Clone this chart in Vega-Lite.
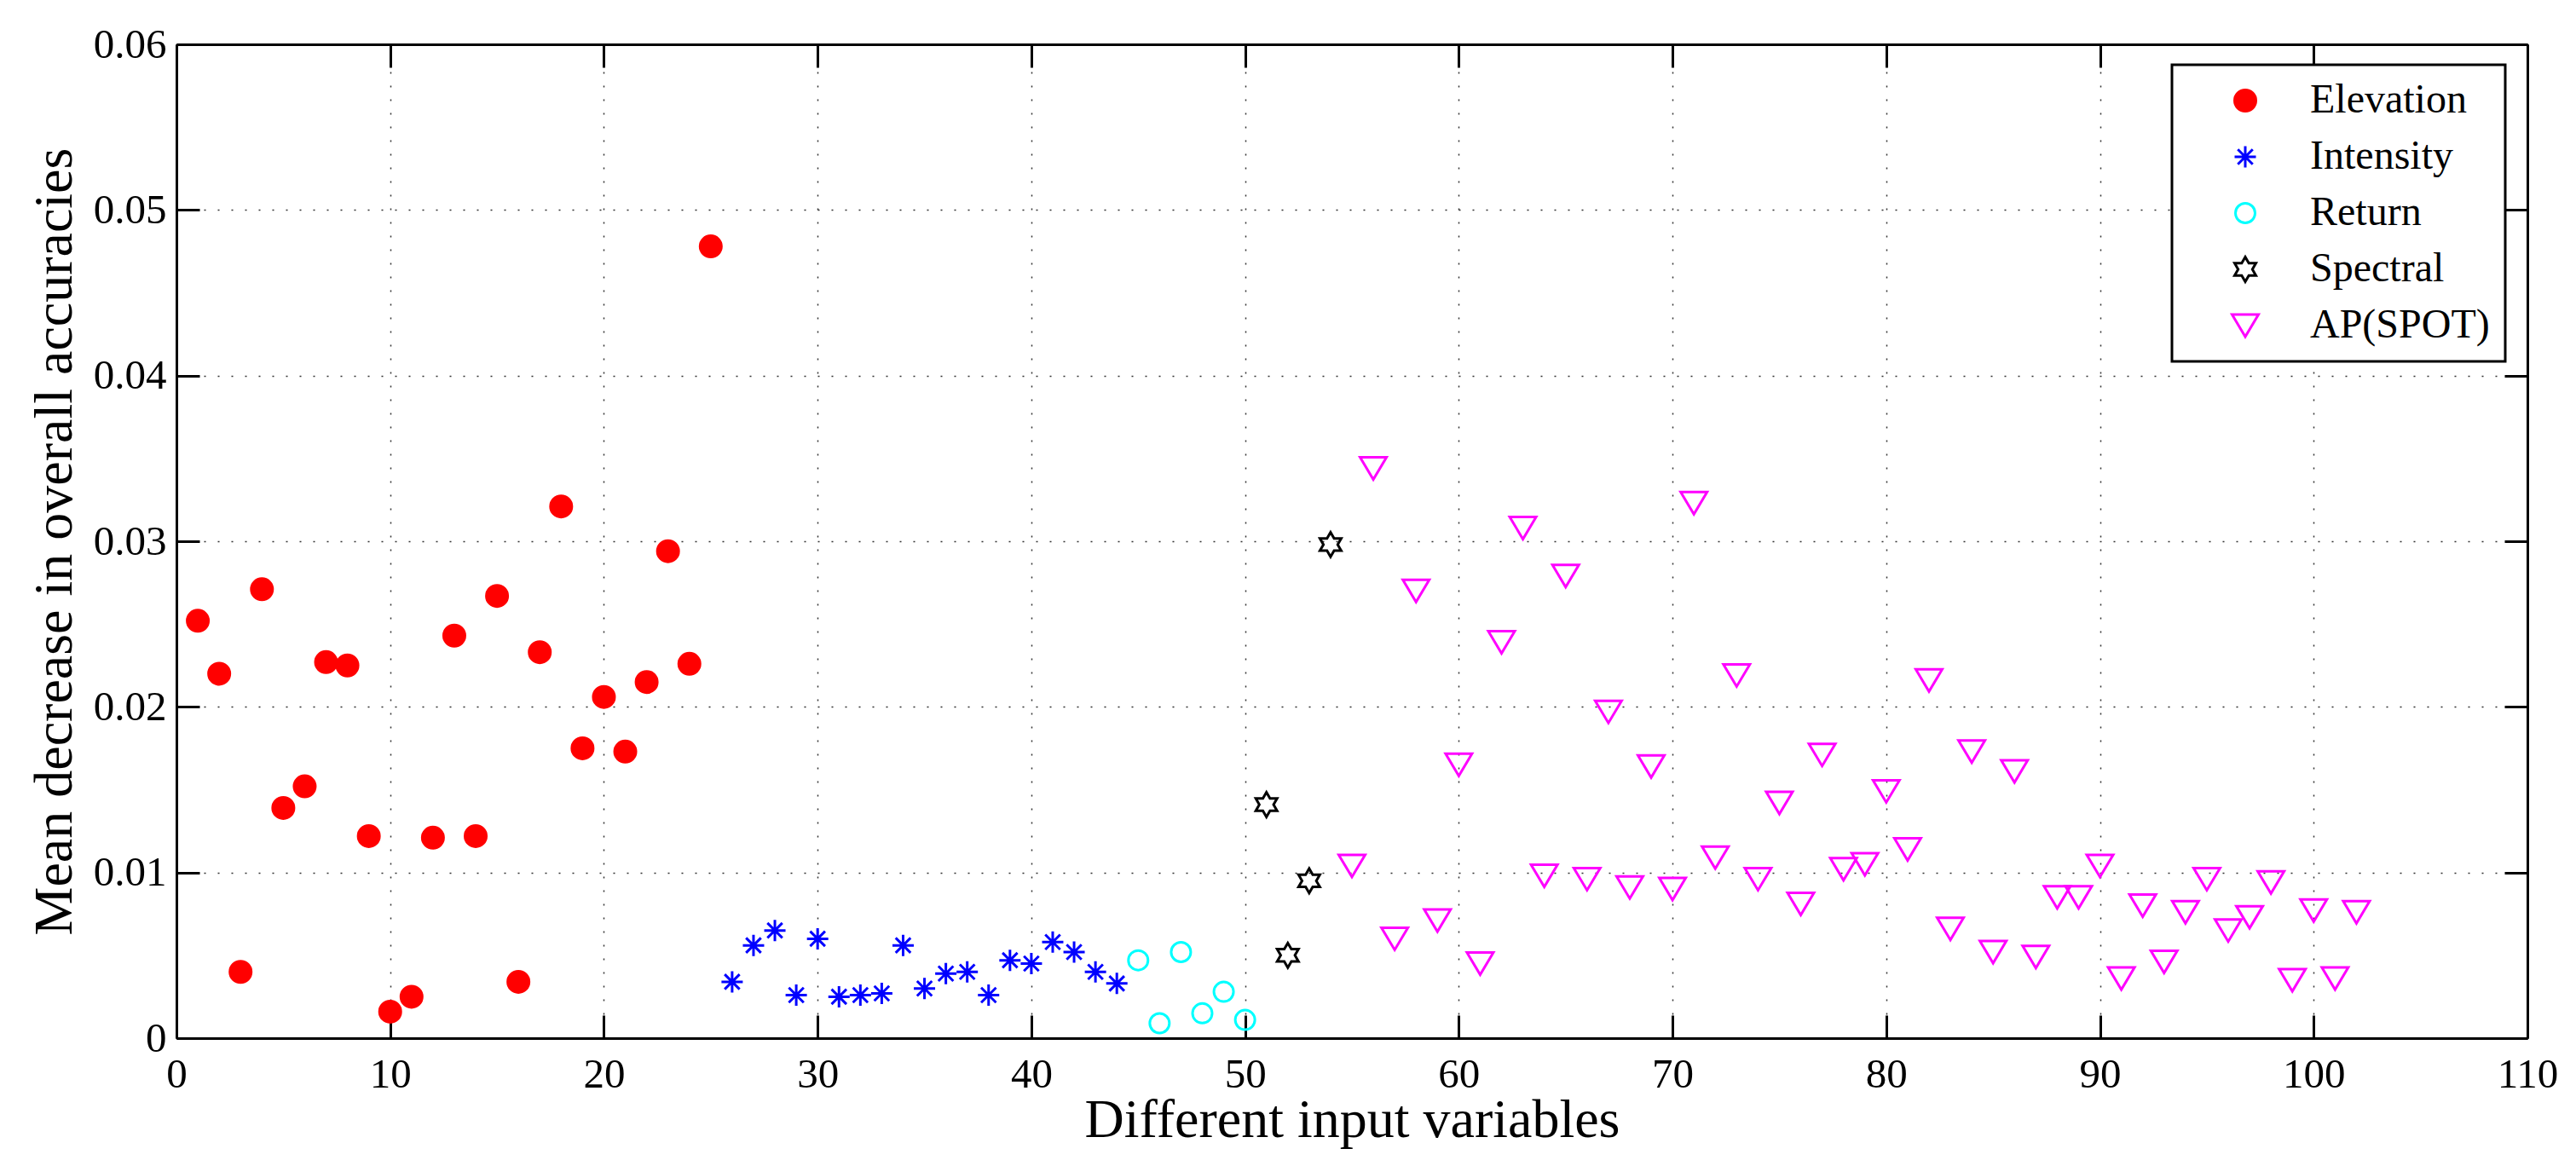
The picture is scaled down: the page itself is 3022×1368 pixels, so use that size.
{
  "$schema": "https://vega.github.io/schema/vega-lite/v6.json",
  "autosize": {"type": "none"},
  "width": 2758,
  "height": 1166,
  "padding": {"left": 207, "top": 52, "right": 57, "bottom": 150},
  "background": "white",
  "data": {
    "values": [
      {"x": 1, "y": 0.0252, "type": "Elevation"},
      {"x": 2, "y": 0.0220, "type": "Elevation"},
      {"x": 3, "y": 0.0040, "type": "Elevation"},
      {"x": 4, "y": 0.0271, "type": "Elevation"},
      {"x": 5, "y": 0.0139, "type": "Elevation"},
      {"x": 6, "y": 0.0152, "type": "Elevation"},
      {"x": 7, "y": 0.0227, "type": "Elevation"},
      {"x": 8, "y": 0.0225, "type": "Elevation"},
      {"x": 9, "y": 0.0122, "type": "Elevation"},
      {"x": 10, "y": 0.0016, "type": "Elevation"},
      {"x": 11, "y": 0.0025, "type": "Elevation"},
      {"x": 12, "y": 0.0121, "type": "Elevation"},
      {"x": 13, "y": 0.0243, "type": "Elevation"},
      {"x": 14, "y": 0.0122, "type": "Elevation"},
      {"x": 15, "y": 0.0267, "type": "Elevation"},
      {"x": 16, "y": 0.0034, "type": "Elevation"},
      {"x": 17, "y": 0.0233, "type": "Elevation"},
      {"x": 18, "y": 0.0321, "type": "Elevation"},
      {"x": 19, "y": 0.0175, "type": "Elevation"},
      {"x": 20, "y": 0.0206, "type": "Elevation"},
      {"x": 21, "y": 0.0173, "type": "Elevation"},
      {"x": 22, "y": 0.0215, "type": "Elevation"},
      {"x": 23, "y": 0.0294, "type": "Elevation"},
      {"x": 24, "y": 0.0226, "type": "Elevation"},
      {"x": 25, "y": 0.0478, "type": "Elevation"},
      {"x": 26, "y": 0.0034, "type": "Intensity"},
      {"x": 27, "y": 0.0056, "type": "Intensity"},
      {"x": 28, "y": 0.0065, "type": "Intensity"},
      {"x": 29, "y": 0.0026, "type": "Intensity"},
      {"x": 30, "y": 0.0060, "type": "Intensity"},
      {"x": 31, "y": 0.0025, "type": "Intensity"},
      {"x": 32, "y": 0.0026, "type": "Intensity"},
      {"x": 33, "y": 0.0027, "type": "Intensity"},
      {"x": 34, "y": 0.0056, "type": "Intensity"},
      {"x": 35, "y": 0.0030, "type": "Intensity"},
      {"x": 36, "y": 0.0039, "type": "Intensity"},
      {"x": 37, "y": 0.0040, "type": "Intensity"},
      {"x": 38, "y": 0.0026, "type": "Intensity"},
      {"x": 39, "y": 0.0047, "type": "Intensity"},
      {"x": 40, "y": 0.0045, "type": "Intensity"},
      {"x": 41, "y": 0.0058, "type": "Intensity"},
      {"x": 42, "y": 0.0052, "type": "Intensity"},
      {"x": 43, "y": 0.0040, "type": "Intensity"},
      {"x": 44, "y": 0.0033, "type": "Intensity"},
      {"x": 45, "y": 0.0047, "type": "Return"},
      {"x": 46, "y": 0.0009, "type": "Return"},
      {"x": 47, "y": 0.0052, "type": "Return"},
      {"x": 48, "y": 0.0015, "type": "Return"},
      {"x": 49, "y": 0.0028, "type": "Return"},
      {"x": 50, "y": 0.0011, "type": "Return"},
      {"x": 51, "y": 0.0141, "type": "Spectral"},
      {"x": 52, "y": 0.0050, "type": "Spectral"},
      {"x": 53, "y": 0.0095, "type": "Spectral"},
      {"x": 54, "y": 0.0298, "type": "Spectral"},
      {"x": 55, "y": 0.0104, "type": "AP(SPOT)"},
      {"x": 56, "y": 0.0344, "type": "AP(SPOT)"},
      {"x": 57, "y": 0.0060, "type": "AP(SPOT)"},
      {"x": 58, "y": 0.0270, "type": "AP(SPOT)"},
      {"x": 59, "y": 0.0071, "type": "AP(SPOT)"},
      {"x": 60, "y": 0.0165, "type": "AP(SPOT)"},
      {"x": 61, "y": 0.0045, "type": "AP(SPOT)"},
      {"x": 62, "y": 0.0239, "type": "AP(SPOT)"},
      {"x": 63, "y": 0.0308, "type": "AP(SPOT)"},
      {"x": 64, "y": 0.0098, "type": "AP(SPOT)"},
      {"x": 65, "y": 0.0279, "type": "AP(SPOT)"},
      {"x": 66, "y": 0.0096, "type": "AP(SPOT)"},
      {"x": 67, "y": 0.0197, "type": "AP(SPOT)"},
      {"x": 68, "y": 0.0091, "type": "AP(SPOT)"},
      {"x": 69, "y": 0.0164, "type": "AP(SPOT)"},
      {"x": 70, "y": 0.0090, "type": "AP(SPOT)"},
      {"x": 71, "y": 0.0323, "type": "AP(SPOT)"},
      {"x": 72, "y": 0.0109, "type": "AP(SPOT)"},
      {"x": 73, "y": 0.0219, "type": "AP(SPOT)"},
      {"x": 74, "y": 0.0096, "type": "AP(SPOT)"},
      {"x": 75, "y": 0.0142, "type": "AP(SPOT)"},
      {"x": 76, "y": 0.0081, "type": "AP(SPOT)"},
      {"x": 77, "y": 0.0171, "type": "AP(SPOT)"},
      {"x": 78, "y": 0.0102, "type": "AP(SPOT)"},
      {"x": 79, "y": 0.0105, "type": "AP(SPOT)"},
      {"x": 80, "y": 0.0149, "type": "AP(SPOT)"},
      {"x": 81, "y": 0.0114, "type": "AP(SPOT)"},
      {"x": 82, "y": 0.0216, "type": "AP(SPOT)"},
      {"x": 83, "y": 0.0066, "type": "AP(SPOT)"},
      {"x": 84, "y": 0.0173, "type": "AP(SPOT)"},
      {"x": 85, "y": 0.0052, "type": "AP(SPOT)"},
      {"x": 86, "y": 0.0161, "type": "AP(SPOT)"},
      {"x": 87, "y": 0.0049, "type": "AP(SPOT)"},
      {"x": 88, "y": 0.0085, "type": "AP(SPOT)"},
      {"x": 89, "y": 0.0085, "type": "AP(SPOT)"},
      {"x": 90, "y": 0.0104, "type": "AP(SPOT)"},
      {"x": 91, "y": 0.0036, "type": "AP(SPOT)"},
      {"x": 92, "y": 0.0080, "type": "AP(SPOT)"},
      {"x": 93, "y": 0.0046, "type": "AP(SPOT)"},
      {"x": 94, "y": 0.0076, "type": "AP(SPOT)"},
      {"x": 95, "y": 0.0096, "type": "AP(SPOT)"},
      {"x": 96, "y": 0.0065, "type": "AP(SPOT)"},
      {"x": 97, "y": 0.0073, "type": "AP(SPOT)"},
      {"x": 98, "y": 0.0094, "type": "AP(SPOT)"},
      {"x": 99, "y": 0.0035, "type": "AP(SPOT)"},
      {"x": 100, "y": 0.0077, "type": "AP(SPOT)"},
      {"x": 101, "y": 0.0036, "type": "AP(SPOT)"},
      {"x": 102, "y": 0.0076, "type": "AP(SPOT)"}
    ]
  },
  "layer": [
    {
      "mark": {"type": "point", "size": 625, "strokeWidth": 3, "opacity": 1},
      "encoding": {
        "x": {
          "field": "x", "type": "quantitative",
          "scale": {"domain": [0, 110], "nice": false, "zero": false},
          "axis": {
            "orient": "bottom", "title": "Different input variables",
            "values": [0, 10, 20, 30, 40, 50, 60, 70, 80, 90, 100, 110],
            "grid": true, "labelPadding": 45, "labelBaseline": "top",
            "titleX": 1379, "titleY": 115, "titleBaseline": "alphabetic"
          }
        },
        "y": {
          "field": "y", "type": "quantitative",
          "scale": {"domain": [0, 0.06], "nice": false},
          "axis": {
            "orient": "left", "title": "Mean decrease in overall accuracies",
            "values": [0, 0.01, 0.02, 0.03, 0.04, 0.05, 0.06],
            "labelExpr": "datum.value == 0 ? '0' : format(datum.value, '.2f')",
            "grid": true, "labelPadding": 39, "labelBaseline": "middle",
            "titleX": -124, "titleY": 583, "titleBaseline": "alphabetic", "titleAngle": -90
          }
        },
        "stroke": {
          "field": "type", "type": "nominal", "title": null,
          "scale": {
            "domain": ["Elevation", "Intensity", "Return", "Spectral", "AP(SPOT)"],
            "range": ["#ff0000", "#0000ff", "#00ffff", "#000000", "#ff00ff"]
          }
        },
        "fill": {
          "field": "type", "type": "nominal", "title": null,
          "scale": {
            "domain": ["Elevation", "Intensity", "Return", "Spectral", "AP(SPOT)"],
            "range": ["#ff0000", "transparent", "transparent", "transparent", "transparent"]
          }
        },
        "shape": {
          "field": "type", "type": "nominal", "title": null,
          "scale": {
            "domain": ["Elevation", "Intensity", "Return", "Spectral", "AP(SPOT)"],
            "range": [
              "M1,0A1,1,0,1,1,-1,0A1,1,0,1,1,1,0Z",
              "M0,-1L0,1M-1,0L1,0M-0.7,-0.7L0.7,0.7M-0.7,0.7L0.7,-0.7",
              "M0.92,0A0.92,0.92,0,1,1,-0.92,0A0.92,0.92,0,1,1,0.92,0Z",
              "M0,-1.155L0.333,-0.577L1,-0.577L0.667,0L1,0.577L0.333,0.577L0,1.155L-0.333,0.577L-1,0.577L-0.667,0L-1,-0.577L-0.333,-0.577Z",
              "M-1.24,-1.04L1.24,-1.04L0,1.04Z"
            ]
          }
        }
      }
    },
    {
      "mark": {"type": "point", "opacity": 0},
      "encoding": {
        "x": {
          "field": "x", "type": "quantitative",
          "axis": {"orient": "top", "title": null, "labels": false, "grid": false,
                   "values": [0, 10, 20, 30, 40, 50, 60, 70, 80, 90, 100, 110]}
        },
        "y": {
          "field": "y", "type": "quantitative",
          "axis": {"orient": "right", "title": null, "labels": false, "grid": false,
                   "values": [0, 0.01, 0.02, 0.03, 0.04, 0.05, 0.06]}
        }
      }
    }
  ],
  "resolve": {"axis": {"x": "independent", "y": "independent"}},
  "config": {
    "view": {"stroke": null},
    "font": "Liberation Serif",
    "axis": {
      "domainColor": "black", "domainWidth": 3,
      "tickColor": "black", "tickWidth": 3, "tickSize": -27,
      "labelFont": "Liberation Serif", "labelFontSize": 49, "labelColor": "black",
      "labelFlush": false, "labelOverlap": false,
      "titleFont": "Liberation Serif", "titleFontSize": 64, "titleFontWeight": "normal", "titleColor": "black",
      "gridColor": "#333333", "gridDash": [2, 14], "gridWidth": 1.5
    },
    "legend": {
      "orient": "none", "legendX": 2341, "legendY": 24,
      "fillColor": "white", "strokeColor": "black", "strokeWidth": 3,
      "padding": 18, "symbolOffset": 44, "labelOffset": 52,
      "symbolSize": 625, "symbolStrokeWidth": 3,
      "labelFont": "Liberation Serif", "labelFontSize": 48, "labelColor": "black",
      "rowPadding": 18, "labelLimit": 400
    }
  }
}
